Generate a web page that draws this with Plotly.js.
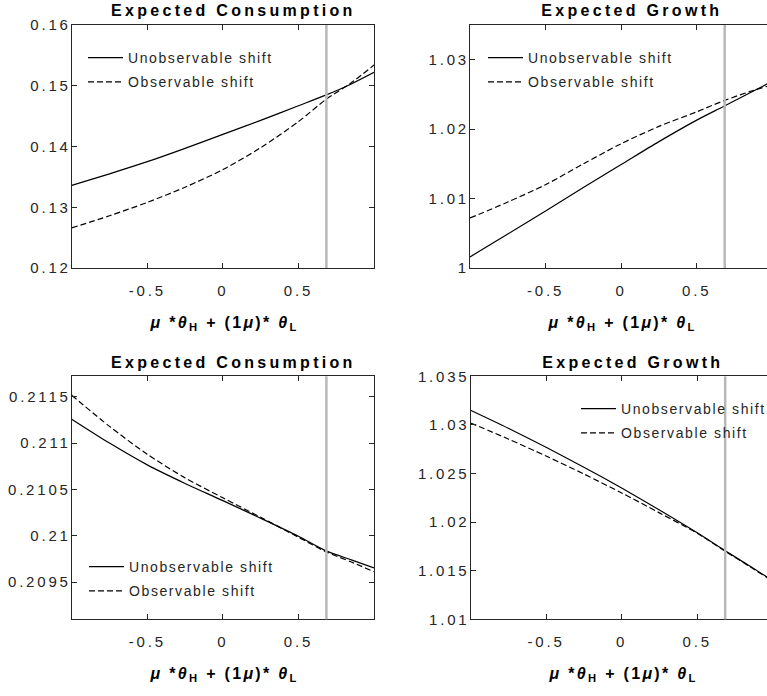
<!DOCTYPE html>
<html><head><meta charset="utf-8">
<script src="https://cdn.plot.ly/plotly-3.0.1.min.js"></script>
<style>
html,body{margin:0;padding:0;overflow:hidden;background:#fff;}
#chart{width:780px;height:696px;}
</style>
</head><body>
<div id="chart"></div>
<script>
// shared x grid: mu*thetaH + (1-mu)*thetaL
const theta = [-1, -0.75, -0.5, -0.25, 0, 0.25, 0.5, 0.68, 0.85, 1];
const cutoff = 0.685;
const seriesNames = ["Unobservable shift", "Observable shift"];
const panelTitles = ["Expected Consumption", "Expected Growth", "Expected Consumption", "Expected Growth"];

// top-left: expected consumption
const consTopUnobs = [0.1336, 0.1355, 0.1375, 0.1397, 0.1420, 0.1443, 0.1467, 0.14845, 0.1503, 0.1522];
const consTopObs   = [0.1266, 0.1286, 0.1308, 0.1333, 0.1362, 0.1398, 0.1441, 0.1477, 0.1505, 0.1534];
// top-right: expected growth
const growTopUnobs = [1.0016, 1.0049, 1.0082, 1.0116, 1.0149, 1.0182, 1.0213, 1.0233, 1.0252, 1.0269];
const growTopObs   = [1.0072, 1.0095, 1.0120, 1.0150, 1.0179, 1.0204, 1.0225, 1.0241, 1.0254, 1.0264];
// bottom-left: expected consumption
const consBotUnobs = [0.211258, 0.211000, 0.210765, 0.210565, 0.210380, 0.210190, 0.209995, 0.209840, 0.209740, 0.209655];
const consBotObs   = [0.211516, 0.211180, 0.210880, 0.210625, 0.210410, 0.210200, 0.209985, 0.209830, 0.209718, 0.209612];
// bottom-right: expected growth
const growBotUnobs = [1.03150, 1.02965, 1.02770, 1.02565, 1.02350, 1.02125, 1.01890, 1.01710, 1.01545, 1.01397];
const growBotObs   = [1.03020, 1.02855, 1.02680, 1.02495, 1.02300, 1.02095, 1.01885, 1.01705, 1.01540, 1.01390];

const xTicks = [-0.5, 0, 0.5];
const xTickText = ["-0.5", "0", "0.5"];
const yTicks = [
  [0.12, 0.13, 0.14, 0.15, 0.16],
  [1, 1.01, 1.02, 1.03],
  [0.2095, 0.21, 0.2105, 0.211, 0.2115],
  [1.01, 1.015, 1.02, 1.025, 1.03, 1.035]
];
const yTickText = [
  ["0.12", "0.13", "0.14", "0.15", "0.16"],
  ["1", "1.01", "1.02", "1.03"],
  ["0.2095", "0.21", "0.2105", "0.211", "0.2115"],
  ["1.01", "1.015", "1.02", "1.025", "1.03", "1.035"]
];
const yRanges = [[0.12, 0.16], [1, 1.035], [0.2091, 0.21172], [1.01, 1.035]];

const W = 780, H = 696;
const FONT = '"Liberation Sans", Arial, sans-serif';
const AX = '#262626';
const px = v => v / W, py = v => 1 - v / H;

const panels = [
  {u: consTopUnobs, o: consTopObs, xd: [71.7, 374], yd: [268, 25], leg: [83, 42]},
  {u: growTopUnobs, o: growTopObs, xd: [470, 772.3], yd: [268, 25], leg: [483, 42]},
  {u: consBotUnobs, o: consBotObs, xd: [71.7, 374], yd: [619.3, 376.3], leg: [84, 551]},
  {u: growBotUnobs, o: growBotObs, xd: [470.5, 772.8], yd: [619.3, 376.3], leg: [576, 393]}
];

const data = [];
const layout = {
  width: W, height: H, margin: {l: 0, r: 0, t: 0, b: 0},
  paper_bgcolor: '#fff', plot_bgcolor: '#fff',
  font: {family: FONT, size: 14, color: AX},
  annotations: [], shapes: []
};

panels.forEach((p, i) => {
  const n = i + 1;
  const xa = n === 1 ? 'x' : 'x' + n, ya = n === 1 ? 'y' : 'y' + n;
  const lg = n === 1 ? 'legend' : 'legend' + n;
  data.push({x: theta, y: p.u, xaxis: xa, yaxis: ya, type: 'scatter', mode: 'lines',
    name: seriesNames[0], legend: lg, legendgroup: 'u' + n,
    line: {color: '#000', width: 1.2, shape: 'spline', smoothing: 0.8}});
  data.push({x: theta, y: p.o, xaxis: xa, yaxis: ya, type: 'scatter', mode: 'lines',
    name: seriesNames[1], legend: lg, legendgroup: 'o' + n,
    line: {color: '#000', width: 1.2, dash: '6px,3px', shape: 'spline', smoothing: 0.8}});
  const axCommon = {showline: true, linecolor: AX, linewidth: 1, mirror: 'ticks',
    ticks: 'inside', ticklen: 5, tickcolor: AX, tickwidth: 1, showgrid: false, zeroline: false,
    tickfont: {family: FONT, size: 15, color: AX}, fixedrange: true};
  layout[n === 1 ? 'xaxis' : 'xaxis' + n] = Object.assign({}, axCommon, {
    domain: [px(p.xd[0]), px(p.xd[1])], range: [-1, 1], anchor: ya,
    tickmode: 'array', tickvals: xTicks, ticktext: xTickText, ticklabelstandoff: 9});
  layout[n === 1 ? 'yaxis' : 'yaxis' + n] = Object.assign({}, axCommon, {
    domain: [py(p.yd[0]), py(p.yd[1])], range: yRanges[i], anchor: xa,
    tickmode: 'array', tickvals: yTicks[i], ticktext: yTickText[i], ticklabelstandoff: -3});
  layout[lg] = {x: px(p.leg[0]), y: py(p.leg[1]), xanchor: 'left', yanchor: 'top',
    bgcolor: 'rgba(0,0,0,0)', borderwidth: 0, traceorder: 'grouped', tracegroupgap: 3,
    itemwidth: 35, font: {family: FONT, size: 14, color: AX}};
  layout.shapes.push({type: 'line', xref: xa, yref: ya + ' domain', x0: cutoff, x1: cutoff, y0: 0, y1: 1,
    line: {color: '#b8b8b8', width: 2.5}, layer: 'above'});
  const cx = (p.xd[0] + p.xd[1]) / 2;
  layout.annotations.push({text: '<b>' + panelTitles[i] + '</b>', xref: 'paper', yref: 'paper',
    x: px(cx + 11), y: py(p.yd[1] - 14), xanchor: 'center', yanchor: 'middle', showarrow: false,
    font: {family: FONT, size: 16, color: '#000'}});
  layout.annotations.push({text: '<b><i>μ</i> *<i>θ</i><sub>H</sub> + (1<i>μ</i>)* <i>θ</i><sub>L</sub></b>',
    xref: 'paper', yref: 'paper', x: px(cx + 1), y: py(p.yd[0] + 55), xanchor: 'center', yanchor: 'middle',
    showarrow: false, font: {family: FONT, size: 16, color: '#000'}});
});

function styleTexts(gd) {
  gd.querySelectorAll('text').forEach(t => {
    const g = t.parentNode;
    const gcls = (g && g.getAttribute && g.getAttribute('class')) || '';
    const tcls = t.getAttribute('class') || '';
    const txt = t.textContent;
    if (/^[xy]\d*tick$/.test(gcls)) {
      t.style.letterSpacing = '2.8px';
    } else if (seriesNames.indexOf(txt) >= 0) {
      t.style.letterSpacing = '1.6px';
      let el = t.parentNode;
      while (el && el !== gd) {
        if (el.removeAttribute) el.removeAttribute('clip-path');
        el = el.parentNode;
      }
    } else if (tcls.indexOf('annotation-text') >= 0) {
      t.style.letterSpacing = txt.indexOf('Expected') >= 0 ? '3.3px' : '2.3px';
    }
  });
}

Plotly.newPlot('chart', data, layout, {staticPlot: true}).then(gd => {
  styleTexts(gd);
  setTimeout(() => styleTexts(gd), 50);
});
</script>
</body></html>
